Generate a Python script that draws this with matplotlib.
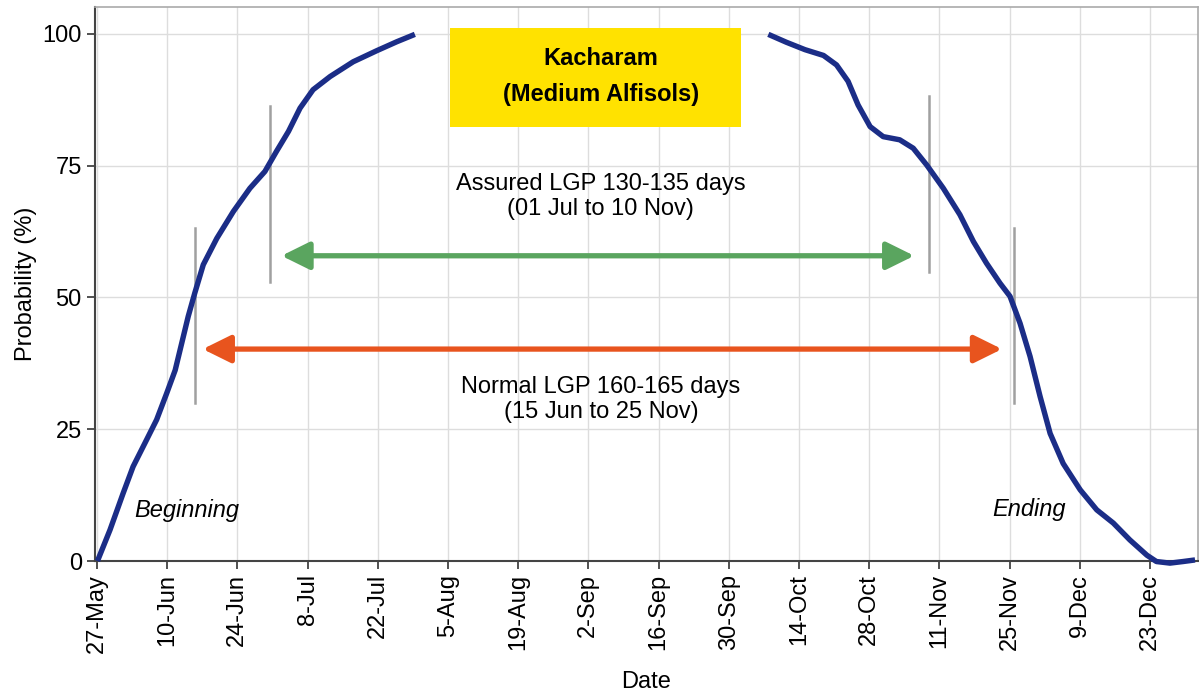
import matplotlib.pyplot as plt

plt.rcParams['font.family'] = ['Liberation Sans', 'DejaVu Sans']

# days counted from 27-May
tick_days = [0, 14, 28, 42, 56, 70, 84, 98, 112, 126, 140, 154, 168, 182, 196, 210]
tick_labels = ["27-May", "10-Jun", "24-Jun", "8-Jul", "22-Jul", "5-Aug", "19-Aug", "2-Sep",
               "16-Sep", "30-Sep", "14-Oct", "28-Oct", "11-Nov", "25-Nov", "9-Dec", "23-Dec"]

# beginning of season (cumulative probability, %)
begin_days = [0.1, 2.6, 5.2, 7.2, 9.9, 11.9, 13.9, 15.6, 16.9, 18.2, 19.5, 21.2, 23.9,
              27.2, 30.5, 33.5, 35.8, 38.2, 40.5, 43.1, 46.5, 51.1, 55.8, 59.8, 63.4]
begin_prob = [0, 5.9, 12.8, 17.9, 23.0, 26.8, 31.8, 36.2, 41.3, 46.4, 50.8, 56.2, 61.2,
              66.3, 70.7, 73.9, 77.7, 81.5, 85.9, 89.4, 91.9, 94.7, 96.8, 98.5, 99.9]

# ending of season
end_days = [133.9, 137.5, 141.2, 144.9, 147.5, 149.8, 151.8, 154.2, 156.8, 160.1, 162.8,
            165.5, 168.8, 172.1, 174.8, 177.4, 180.1, 182.1, 184.1, 186.1, 188.1, 190.1,
            192.7, 196.1, 199.4, 202.7, 206.0, 209.4, 211.3, 214.0, 216.6, 219.0]
end_prob = [99.9, 98.4, 97.0, 95.9, 94.1, 91.0, 86.5, 82.4, 80.5, 79.9, 78.3,
            75.1, 70.7, 65.7, 60.6, 56.5, 52.7, 50.2, 45.1, 38.8, 31.2, 24.2,
            18.5, 13.5, 9.7, 7.2, 4.0, 1.1, -0.1, -0.4, -0.1, 0.2]

# gray markers: (day, low, high)
markers = [(19.5, 29.9, 63.1), (34.5, 53.0, 86.4), (166.0, 54.8, 88.2), (182.9, 29.9, 63.1)]

assured = (36.8, 163.0, 57.9)
normal = (21.1, 180.5, 40.2)

fig = plt.figure(figsize=(11.99, 6.92), dpi=100)
ax = fig.add_axes([0.0792, 0.1893, 0.9200, 0.7999])

ax.grid(True, color='#dddddd', linewidth=1.0, zorder=0)
ax.set_axisbelow(True)

for d, lo, hi in markers:
    ax.plot([d, d], [lo, hi], color='#a0a0a0', linewidth=1.8, zorder=2)

ax.plot(begin_days, begin_prob, color='#1b2d87', linewidth=3.9, zorder=3,
        solid_capstyle='butt', solid_joinstyle='round', clip_on=False)
ax.plot(end_days, end_prob, color='#1b2d87', linewidth=3.9, zorder=3,
        solid_capstyle='butt', solid_joinstyle='round', clip_on=False)

for (x0, x1, y), col in [(assured, '#5aa55f'), (normal, '#e8541e')]:
    ax.annotate('', xy=(x1, y), xytext=(x0, y),
                arrowprops=dict(arrowstyle='<|-|>,head_length=17,head_width=8.4',
                                mutation_scale=1, color=col, linewidth=3.8,
                                shrinkA=0, shrinkB=0), zorder=4)

ax.text(100.5, 69.1, "Assured LGP 130-135 days\n(01 Jul to 10 Nov)", ha='center', va='center',
        fontsize=17, linespacing=1.2)
ax.text(100.5, 30.6, "Normal LGP 160-165 days\n(15 Jun to 25 Nov)", ha='center', va='center',
        fontsize=17, linespacing=1.2)
ax.text(7.5, 9.5, "Beginning", style='italic', fontsize=17, ha='left', va='center')
ax.text(178.5, 9.8, "Ending", style='italic', fontsize=17, ha='left', va='center')

# yellow title box
ax.add_patch(plt.Rectangle((70.4, 82.3), 58.0, 18.8, facecolor='#ffe200', edgecolor='none',
                           zorder=1))
ax.text(100.5, 91.9, "Kacharam\n(Medium Alfisols)", ha='center', va='center', fontsize=17,
        fontweight='bold', linespacing=1.7, zorder=2)

ax.set_xlim(-0.4, 219.6)
ax.set_ylim(0, 105)
ax.set_xticks(tick_days)
ax.set_xticklabels(tick_labels, rotation=90)
ax.set_yticks([0, 25, 50, 75, 100])
ax.tick_params(axis='both', labelsize=17, direction='out', length=6, width=1.2, color='#333333')

ax.set_xlabel("Date", fontsize=17, labelpad=13)
ax.set_ylabel("Probability (%)", fontsize=17, labelpad=4)

for s in ['left', 'bottom']:
    ax.spines[s].set_color('#444444')
    ax.spines[s].set_linewidth(1.5)
for s in ['top', 'right']:
    ax.spines[s].set_color('#aaaaaa')
    ax.spines[s].set_linewidth(1.2)

plt.savefig("out.png", dpi=100)
